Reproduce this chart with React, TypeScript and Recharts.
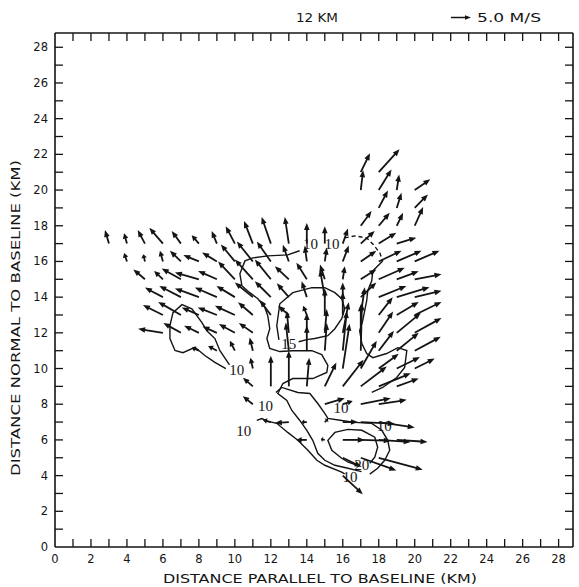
import React from 'react';
import { ScatterChart, Scatter, XAxis, YAxis } from 'recharts';

// ---------- layout constants ----------
const CHART_W = 579;
const CHART_H = 587;
const PLOT_LEFT = 55;
const PLOT_TOP = 33;
const PLOT_RIGHT_GAP = 6;
const PLOT_BOTTOM_GAP = 40;
const AXIS_SIZE = 1;
const MARGIN = {
  top: PLOT_TOP - AXIS_SIZE,
  right: PLOT_RIGHT_GAP - AXIS_SIZE,
  bottom: PLOT_BOTTOM_GAP - AXIS_SIZE,
  left: PLOT_LEFT - AXIS_SIZE,
};
const PLOT_W = CHART_W - PLOT_LEFT - PLOT_RIGHT_GAP;
const PLOT_H = CHART_H - PLOT_TOP - PLOT_BOTTOM_GAP;
const X_DOMAIN: [number, number] = [0, 28.8];
const Y_DOMAIN: [number, number] = [0, 28.8];
const PX_PER_KM_X = PLOT_W / (X_DOMAIN[1] - X_DOMAIN[0]);
const PX_PER_KM_Y = PLOT_H / (Y_DOMAIN[1] - Y_DOMAIN[0]);
// vector scale: 5.0 m/s drawn as 1.11 km
const KM_PER_MS = 1 / 4.5;

// ---------- tick values ----------
const xTicks = [0,1,2,3,4,5,6,7,8,9,10,11,12,13,14,15,16,17,18,19,20,21,22,23,24,25,26,27,28];
const yTicks = [0,1,2,3,4,5,6,7,8,9,10,11,12,13,14,15,16,17,18,19,20,21,22,23,24,25,26,27,28];
const labelledTicks = [0,2,4,6,8,10,12,14,16,18,20,22,24,26,28];

// ---------- wind vectors: [x(km), u(m/s), v(m/s)] per row y(km) ----------
const row21 = [[17,2.3,4.8],[18,5.2,5.8]];
const row20 = [[17,0.6,5],[18,3.2,5.2],[19,0.6,3.9],[20,3.9,2.7]];
const row19 = [[18,2.3,4.4],[19,1.2,3.8],[20,3.3,3.4]];
const row18 = [[17,2.7,3.7],[18,2.75,3.25],[19,1.6,3.25],[20,2.1,4.7]];
const row17 = [[3,-1,3.4],[4,-0.7,2.6],[5,-1.8,3.4],[6,-3.4,4],[7,-2.3,3.2],[8,-1.8,2.1],[9,-1.3,3.2],[10,-2.3,4.4],[11,-2.2,5.7],[12,-2.3,6.7],[13,-1,6.7],[14,0,5.2],[15,0,4.4],[16,1.3,3.8],[17,3.5,3.2],[18,4.4,2.75],[19,4.9,1.5]];
const row16 = [[4,-0.7,2.1],[5,-0.4,1.8],[6,-0.75,2.7],[7,-2.75,2.7],[8,-3.9,1.6],[9,-3.7,2.25],[10,-3.5,4.3],[11,-4,5],[12,-3.5,5],[13,-1.5,4.2],[14,-0.5,4],[15,0.5,3.5],[16,1.5,4],[17,3.9,2.7],[18,5.7,2.7],[19,6.2,2.7],[20,6.2,2.7]];
const row15 = [[5,-2.9,2.5],[6,-2.2,2.1],[7,-4.8,2.7],[8,-6,1.7],[9,-4.7,2.1],[10,-4.2,4.5],[11,-4.5,5],[12,-4,5],[13,-3.5,3.3],[14,-2.6,4.2],[15,-1.2,3.7],[16,0.5,3.3],[17,3.9,2.5],[18,6.5,2.9],[19,5.5,2],[20,6.7,1.25]];
const row14 = [[6,-4.5,2.4],[7,-5.4,2.8],[8,-6,2.2],[9,-5.5,2.4],[10,-4.6,2.8],[11,-4.5,3.7],[12,-4,4],[13,-3,3.5],[14,-1.3,4],[15,-1.2,7],[16,0,3.7],[17,3.9,3.7],[18,6.9,2.8],[19,8.2,2.5],[20,6.7,1.6]];
const row13 = [[6,-5,2.5],[7,-5.7,3.3],[8,-4.3,1.9],[9,-4.8,1.9],[10,-5,2.3],[11,-3.7,3.2],[12,-2.75,3.75],[13,-2.7,2.3],[14,-0.9,2.3],[15,0,6.7],[16,0,5.8],[17,1,7],[18,3.5,4.5],[19,5.5,3.3],[20,6.7,3.3]];
const row12 = [[6,-6.2,1],[7,-4.4,2.5],[8,-3.7,1.8],[9,-3.6,1.6],[10,-4,2.2],[11,-3.5,2.5],[13,-0.5,5.5],[14,0,5],[15,0.5,6],[16,1.5,7.7],[17,0,7.2],[18,3.6,5.4],[19,6,5],[20,6.7,3.75]];
const row11 = [[8,-1.8,0.8],[9,-2.2,1.2],[10,-1.25,2.5],[11,-0.8,3.3],[13,-0.75,7.1],[14,0,6.3],[15,0.5,7],[16,1,10],[17,0.3,12],[18,3.8,5],[19,5.5,4.5],[20,6.5,3.5]];
const row10 = [[11,-0.6,2.7],[16,1.7,11.3],[17,4,7],[18,5,3.7],[19,5.8,2.9],[20,5,2.5]];
const row9 = [[11,-2.5,2.2],[12,0,7.7],[13,0,9],[14,0.6,7.2],[15,2.9,6],[16,5.2,6.7],[17,6.5,5],[18,8,3.3],[19,5.5,2]];
const row8 = [[11,-2.5,2],[15,5,1.5],[16,2.5,0.8],[17,7.5,1.5],[18,7,1.1]];
const row7 = [[12,-2,0.5],[13,-3.5,-0.25],[14,-1.3,0],[15,0.8,0.8],[16,3.8,0],[17,8.5,-0.4],[18,9,-1.4]];
const row6 = [[14,-2.6,0],[15,-1,0.2],[16,5.5,0],[17,7.5,-0.2],[18,8,-0.5],[19,7.7,-0.5]];
const row5 = [[16,4.7,-2.3],[17,8.9,-3.2],[18,11,-3]];
const row4 = [[16,5,-4.7]];

const vectorRows: [number, number[][]][] = [
  [21,row21],[20,row20],[19,row19],[18,row18],[17,row17],[16,row16],[15,row15],[14,row14],
  [13,row13],[12,row12],[11,row11],[10,row10],[9,row9],[8,row8],[7,row7],[6,row6],[5,row5],[4,row4],
];

// ---------- contours (km) ----------
const contourOuter10 = [[13.6,16.6],[12.94,16.37],[11.83,16.31],[11.0,16.2],[10.56,16.03],[10.28,15.31],[10.39,14.64],[10.83,14.25],[11.28,13.91],[11.67,13.41],[11.83,12.96],[11.94,12.23],[11.78,11.68],[11.94,11.12],[12.5,10.95],[13.22,11.0],[14.28,11.0],[14.83,10.78],[15.17,10.17],[15.11,9.78],[14.33,9.44],[13.22,9.44],[12.67,9.16],[12.39,8.6],[12.89,8.21],[13.17,7.65],[13.61,7.09],[14.0,6.54],[14.33,5.98],[14.61,5.25],[15.0,4.86],[15.56,4.58],[16.29,4.41],[17.04,4.22]];
const contour15 = [[12.45,11.6],[12.33,12.4],[12.5,13.63],[13.22,14.25],[14.28,14.53],[15.0,14.53],[15.56,14.25],[15.94,13.91],[16.11,13.35],[15.94,12.79],[15.56,12.23],[15.17,11.84],[14.44,11.68],[14.0,11.62],[13.55,11.5]];
const contourSpine = [[12.28,8.66],[12.61,8.94],[13.5,8.66],[14.17,8.6],[14.61,8.04],[15.0,7.49],[15.17,7.21],[15.94,7.09],[16.67,6.98],[17.61,6.93],[18.17,6.54],[18.5,5.98],[18.61,5.42],[18.33,4.86],[17.94,4.41],[17.5,4.08]];
const contour20 = [[16.7,4.62],[16.3,4.75],[15.94,4.97],[15.39,5.42],[15.17,5.98],[15.56,6.42],[16.28,6.59],[17.06,6.54],[17.78,6.15],[17.94,5.59],[17.78,5.03],[17.5,4.69]];
const contourLow10 = [[11.22,7.09],[11.5,7.2],[11.8,7.05],[12.33,6.93],[12.94,6.42],[13.5,5.98],[14.06,5.42],[14.56,4.86],[15.0,4.58],[15.94,4.19],[16.1,4.1]];
const contourRightDashed = [[16.11,17.32],[16.67,17.43],[17.33,17.32],[17.67,16.98],[18.06,16.48],[18.22,16.03]];
const contourRight = [[18.22,16.03],[17.94,15.75],[17.67,15.47],[17.61,14.92],[17.39,14.36],[17.33,13.8],[17.22,13.24],[17.11,12.68],[16.94,12.12],[17.06,11.4],[17.33,10.84],[17.67,10.61],[18.44,10.84],[19.06,11.17],[19.56,11.01],[19.44,10.06],[19.0,9.5],[18.22,8.94],[17.61,8.66]];
const contourLeft = [[9.7,10.2],[9.17,11.0],[8.89,11.68],[8.44,12.12],[8.17,12.57],[7.61,13.35],[7.06,13.58],[6.56,13.13],[6.39,12.4],[6.39,11.68],[6.67,11.01],[7.11,10.89],[7.78,11.19],[8.33,10.73],[8.89,10.35],[9.5,10.0]];

const contourLabelX = [10.1, 11.7, 10.5, 15.9, 18.3, 16.4, 13.0, 17.06, 14.2, 15.4];
const contourLabelY = [9.9, 7.9, 6.5, 7.8, 6.8, 3.9, 11.4, 4.58, 17.0, 17.0];
const contourLabelText = ['10','10','10','10','10','10','15','20','10','10'];

// ---------- build series data ----------
const vectorData = vectorRows.flatMap(([y, row]) => row.map(([x, u, v]) => ({ x, y, u, v })));
const toPts = (arr: number[][]) => arr.map(([x, y]) => ({ x, y }));
const labelData = contourLabelX.map((x, i) => ({ x, y: contourLabelY[i], t: contourLabelText[i] }));

const INK = '#141414';
const FONT = '"DejaVu Sans", sans-serif';

const ArrowShape = (props: any) => {
  const { cx, cy, payload } = props;
  if (cx == null || cy == null) return <g />;
  const dx = payload.u * KM_PER_MS * PX_PER_KM_X;
  const dy = -payload.v * KM_PER_MS * PX_PER_KM_Y;
  const len = Math.hypot(dx, dy) || 1;
  const ux = dx / len, uy = dy / len;
  const hl = Math.min(7, len * 0.5), hw = 2.8;
  const x2 = cx + dx, y2 = cy + dy;
  const bx = x2 - ux * hl, by = y2 - uy * hl;
  const pts = `${x2},${y2} ${bx - uy * hw},${by + ux * hw} ${bx + uy * hw},${by - ux * hw}`;
  return (
    <g>
      <line x1={cx} y1={cy} x2={bx + ux * 1} y2={by + uy * 1} stroke={INK} strokeWidth={1.8} />
      <polygon points={pts} fill={INK} />
    </g>
  );
};

const NoShape = () => <g />;

const LabelShape = (props: any) => {
  const { cx, cy, payload } = props;
  if (cx == null) return <g />;
  return (
    <text x={cx} y={cy + 5} textAnchor="middle" fontFamily='"Liberation Serif", serif' fontSize={15} fill={INK}>
      {payload.t}
    </text>
  );
};

const BottomTick = (props: any) => {
  const { x, payload } = props;
  const yb = PLOT_TOP + PLOT_H;
  const v = payload.value;
  return (
    <g>
      {v > 0 && <line x1={x} y1={yb} x2={x} y2={yb - 8} stroke={INK} strokeWidth={1.3} />}
      {labelledTicks.includes(v) && (
        <text x={x} y={yb + 16} textAnchor="middle" fontFamily={FONT} fontSize={11.5} fill={INK}>{v}</text>
      )}
    </g>
  );
};

const TopTick = (props: any) => {
  const { x, payload } = props;
  if (payload.value === 0) return <g />;
  return <line x1={x} y1={PLOT_TOP} x2={x} y2={PLOT_TOP + 8} stroke={INK} strokeWidth={1.3} />;
};

const LeftTick = (props: any) => {
  const { y, payload } = props;
  const v = payload.value;
  return (
    <g>
      {v > 0 && <line x1={PLOT_LEFT} y1={y} x2={PLOT_LEFT + 8} y2={y} stroke={INK} strokeWidth={1.3} />}
      {labelledTicks.includes(v) && (
        <text x={PLOT_LEFT - 7} y={y + 4} textAnchor="end" fontFamily={FONT} fontSize={11.5} fill={INK}>{v}</text>
      )}
    </g>
  );
};

const RightTick = (props: any) => {
  const { y, payload } = props;
  if (payload.value === 0) return <g />;
  const xr = PLOT_LEFT + PLOT_W;
  return <line x1={xr} y1={y} x2={xr - 8} y2={y} stroke={INK} strokeWidth={1.3} />;
};

const contourLine = { stroke: INK, strokeWidth: 1.4, fill: 'none' };
const axisLineStyle = { stroke: INK, strokeWidth: 1.6 };

export default function App() {
  const legendLen = 5.0 * KM_PER_MS * PX_PER_KM_X;
  return (
    <div style={{ position: 'absolute', left: 0, top: 0, width: CHART_W, height: CHART_H, background: '#fff' }}>
      <ScatterChart width={CHART_W} height={CHART_H} margin={MARGIN}>
        <XAxis xAxisId="b" dataKey="x" type="number" domain={X_DOMAIN} ticks={xTicks} orientation="bottom"
          height={AXIS_SIZE} tickSize={0} tickMargin={0} tickLine={false} axisLine={axisLineStyle}
          tick={<BottomTick />} interval={0} allowDataOverflow />
        <XAxis xAxisId="t" dataKey="x" type="number" domain={X_DOMAIN} ticks={xTicks} orientation="top"
          height={AXIS_SIZE} tickSize={0} tickMargin={0} tickLine={false} axisLine={axisLineStyle}
          tick={<TopTick />} interval={0} allowDataOverflow />
        <YAxis yAxisId="l" dataKey="y" type="number" domain={Y_DOMAIN} ticks={yTicks} orientation="left"
          width={AXIS_SIZE} tickSize={0} tickMargin={0} tickLine={false} axisLine={axisLineStyle}
          tick={<LeftTick />} interval={0} allowDataOverflow />
        <YAxis yAxisId="r" dataKey="y" type="number" domain={Y_DOMAIN} ticks={yTicks} orientation="right"
          width={AXIS_SIZE} tickSize={0} tickMargin={0} tickLine={false} axisLine={axisLineStyle}
          tick={<RightTick />} interval={0} allowDataOverflow />

        <Scatter xAxisId="t" yAxisId="r" data={[{ x: 0, y: 0 }]} shape={<NoShape />} isAnimationActive={false} />
        <Scatter xAxisId="b" yAxisId="l" data={toPts(contourLeft)} line={contourLine} lineType="joint" shape={<NoShape />} isAnimationActive={false} />
        <Scatter xAxisId="b" yAxisId="l" data={toPts(contourOuter10)} line={contourLine} lineType="joint" shape={<NoShape />} isAnimationActive={false} />
        <Scatter xAxisId="b" yAxisId="l" data={toPts(contour15)} line={contourLine} lineType="joint" shape={<NoShape />} isAnimationActive={false} />
        <Scatter xAxisId="b" yAxisId="l" data={toPts(contourSpine)} line={contourLine} lineType="joint" shape={<NoShape />} isAnimationActive={false} />
        <Scatter xAxisId="b" yAxisId="l" data={toPts(contour20)} line={contourLine} lineType="joint" shape={<NoShape />} isAnimationActive={false} />
        <Scatter xAxisId="b" yAxisId="l" data={toPts(contourLow10)} line={contourLine} lineType="joint" shape={<NoShape />} isAnimationActive={false} />
        <Scatter xAxisId="b" yAxisId="l" data={toPts(contourRight)} line={contourLine} lineType="joint" shape={<NoShape />} isAnimationActive={false} />
        <Scatter xAxisId="b" yAxisId="l" data={toPts(contourRightDashed)} line={{ ...contourLine, strokeDasharray: '4 3' }} lineType="joint" shape={<NoShape />} isAnimationActive={false} />

        <Scatter xAxisId="b" yAxisId="l" data={vectorData} shape={<ArrowShape />} isAnimationActive={false} />
        <Scatter xAxisId="b" yAxisId="l" data={labelData} shape={<LabelShape />} isAnimationActive={false} />
      </ScatterChart>

      <svg width={CHART_W} height={CHART_H} style={{ position: 'absolute', left: 0, top: 0, pointerEvents: 'none' }}>
        <text x={317} y={22} textAnchor="middle" fontFamily={FONT} fontSize={12.5} fill={INK} textLength={42} lengthAdjust="spacingAndGlyphs">12 KM</text>
        <line x1={451} y1={17.5} x2={451 + legendLen - 5} y2={17.5} stroke={INK} strokeWidth={1.5} />
        <polygon points={`${451 + legendLen},17.5 ${451 + legendLen - 6},15.2 ${451 + legendLen - 6},19.8`} fill={INK} />
        <text x={477} y={22} fontFamily={FONT} fontSize={12.5} fill={INK} textLength={64} lengthAdjust="spacingAndGlyphs">5.0 M/S</text>
        <text x={320} y={583} textAnchor="middle" fontFamily={FONT} fontSize={13} fill={INK} textLength={314} lengthAdjust="spacingAndGlyphs">DISTANCE PARALLEL TO BASELINE (KM)</text>
        <text x={0} y={0} transform="translate(20 318) rotate(-90)" textAnchor="middle" fontFamily={FONT} fontSize={13} fill={INK} textLength={316} lengthAdjust="spacingAndGlyphs">DISTANCE NORMAL TO BASELINE (KM)</text>
      </svg>
    </div>
  );
}
